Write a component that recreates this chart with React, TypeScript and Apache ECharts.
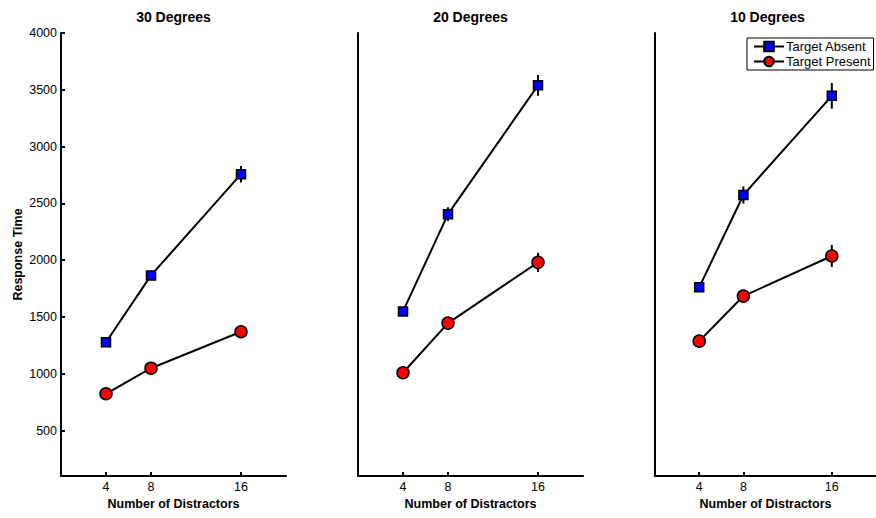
import React, { useEffect, useRef } from "react";
import * as echarts from "echarts";

const distractors = [4, 8, 16];
const panelTitles = ["30 Degrees", "20 Degrees", "10 Degrees"];
const yTickValues = [500, 1000, 1500, 2000, 2500, 3000, 3500, 4000];

const absent30 = [1278, 1866, 2757];
const absent30Err = [30, 40, 73];
const present30 = [824, 1049, 1370];
const present30Err = [20, 25, 40];

const absent20 = [1549, 2405, 3539];
const absent20Err = [35, 60, 92];
const present20 = [1009, 1446, 1981];
const present20Err = [25, 30, 84];

const absent10 = [1761, 2574, 3447];
const absent10Err = [40, 75, 113];
const present10 = [1287, 1684, 2037];
const present10Err = [25, 40, 97];

const absentByPanel = [absent30, absent20, absent10];
const absentErrByPanel = [absent30Err, absent20Err, absent10Err];
const presentByPanel = [present30, present20, present10];
const presentErrByPanel = [present30Err, present20Err, present10Err];

const FONT = "'Liberation Sans', Arial, Helvetica, sans-serif";

export default function App() {
  const ref = useRef<HTMLDivElement>(null);
  useEffect(() => {
    if (!ref.current) return;
    const chart = echarts.init(ref.current, undefined, { renderer: "svg" });
    const lefts = [61, 358, 655];
    const grids = lefts.map((l) => ({ left: l, top: 33, width: 225, height: 443 }));
    const xAxes = lefts.map((_, i) => ({
      type: "value",
      gridIndex: i,
      min: 0,
      max: 20,
      name: "Number of Distractors",
      nameLocation: "middle",
      nameGap: 17,
      nameTextStyle: { fontFamily: FONT, fontSize: 12.5, fontWeight: "bold", color: "#000", verticalAlign: "top" },
      axisLine: { show: true, onZero: false, lineStyle: { color: "#000", width: 2 } },
      axisTick: { show: true, inside: true, length: 4, lineStyle: { color: "#000", width: 2 }, customValues: distractors },
      axisLabel: {
        show: true,
        margin: 4,
        fontFamily: FONT,
        fontSize: 12.5,
        color: "#000",
        customValues: distractors,
        formatter: (v: number) => String(v),
      },
      splitLine: { show: false },
    }));
    const yAxes = lefts.map((_, i) => ({
      type: "value",
      gridIndex: i,
      min: 100,
      max: 4000,
      name: i === 0 ? "Response Time" : "",
      nameLocation: "middle",
      nameGap: 37,
      nameRotate: 90,
      nameTextStyle: { fontFamily: FONT, fontSize: 12.5, fontWeight: "bold", color: "#000" },
      axisLine: { show: true, onZero: false, lineStyle: { color: "#000", width: 2 } },
      axisTick: { show: i === 0, inside: true, length: 4, lineStyle: { color: "#000", width: 2 }, customValues: yTickValues },
      axisLabel: {
        show: i === 0,
        margin: 4,
        fontFamily: FONT,
        fontSize: 12.5,
        color: "#000",
        customValues: yTickValues,
        formatter: (v: number) => String(v),
      },
      splitLine: { show: false },
    }));

    const series: any[] = [];
    for (let i = 0; i < 3; i++) {
      const groups = [
        { vals: absentByPanel[i], errs: absentErrByPanel[i] },
        { vals: presentByPanel[i], errs: presentErrByPanel[i] },
      ];
      groups.forEach((g) => {
        series.push({
          type: "custom",
          xAxisIndex: i,
          yAxisIndex: i,
          z: 1,
          silent: true,
          data: distractors.map((d, k) => [d, g.vals[k], g.errs[k]]),
          renderItem: (params: any, api: any) => {
            const x = api.value(0);
            const v = api.value(1);
            const e = api.value(2);
            const p1 = api.coord([x, v + e]);
            const p2 = api.coord([x, v - e]);
            return {
              type: "line",
              shape: { x1: p1[0], y1: p1[1], x2: p2[0], y2: p2[1] },
              style: { stroke: "#000", lineWidth: 2 },
            };
          },
        });
      });
      series.push({
        type: "line",
        name: "Target Absent",
        xAxisIndex: i,
        yAxisIndex: i,
        z: 3,
        data: distractors.map((d, k) => [d, absentByPanel[i][k]]),
        symbol: "rect",
        symbolSize: 9,
        lineStyle: { color: "#000", width: 2 },
        itemStyle: { color: "#0000ff", borderColor: "#000", borderWidth: 1.5 },
      });
      series.push({
        type: "line",
        name: "Target Present",
        xAxisIndex: i,
        yAxisIndex: i,
        z: 3,
        data: distractors.map((d, k) => [d, presentByPanel[i][k]]),
        symbol: "circle",
        symbolSize: 12,
        lineStyle: { color: "#000", width: 2 },
        itemStyle: { color: "#ff0000", borderColor: "#000", borderWidth: 1.5 },
      });
    }

    chart.setOption({
      animation: false,
      backgroundColor: "#fff",
      grid: grids,
      xAxis: xAxes,
      yAxis: yAxes,
      legend: {
        data: ["Target Absent", "Target Present"],
        orient: "vertical",
        left: 747,
        top: 38,
        width: 126,
        padding: [2, 3, 2, 6],
        itemGap: 2,
        itemWidth: 30,
        itemHeight: 12,
        borderColor: "#000",
        borderWidth: 1,
        backgroundColor: "#fff",
        textStyle: { fontFamily: FONT, fontSize: 13, color: "#000", padding: [0, 0, 0, -3] },
      },
      graphic: panelTitles.map((t, i) => ({
        type: "text",
        x: lefts[i] + 112.5,
        y: 17,
        style: {
          text: t,
          fontFamily: FONT,
          fontSize: 14,
          fontWeight: "bold",
          fill: "#000",
          align: "center",
          verticalAlign: "middle",
        },
      })),
      series,
    });
    return () => chart.dispose();
  }, []);
  return <div ref={ref} style={{ width: 876, height: 518, position: "absolute", left: 0, top: 0 }} />;
}
